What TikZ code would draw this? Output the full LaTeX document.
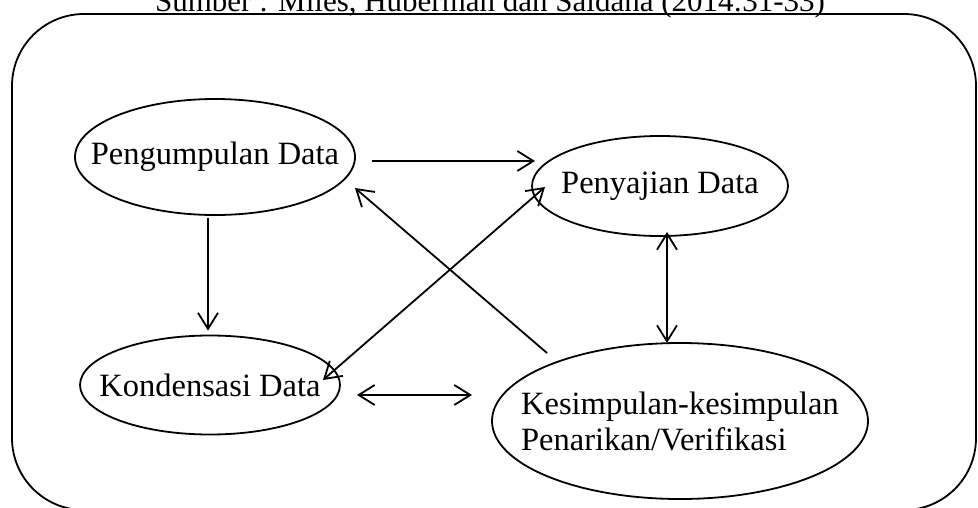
\documentclass[tikz,border=0pt]{standalone}
\usepackage{fontspec}
\setmainfont{Liberation Serif}
\usetikzlibrary{shapes,positioning,arrows.meta}

\tikzset{
    proses/.style={ellipse, draw, line width=1.8pt, inner sep=0pt, inner xsep=-40pt, outer sep=0pt, font=\fontsize{32.5}{36}\selectfont},
    arr/.style={line width=1.8pt, -{Straight Barb[length=16pt,width=20pt]}},
    darr/.style={line width=1.8pt, {Straight Barb[length=16pt,width=20pt]}-{Straight Barb[length=16pt,width=20pt]}}
}

\begin{document}
\begin{tikzpicture}[x=1pt,y=-1pt]
        \clip (0,0) rectangle (978,507);
        \node [anchor=base, font=\fontsize{31}{36}\selectfont] (sumber) at (490,11) {Sumber : Miles, Huberman dan Saldana (2014:31-33)};
        \draw [line width=1.8pt, rounded corners=72pt] (12,14) rectangle (976,510);

        \node [proses, minimum width=280pt, minimum height=116pt] (kumpul) at (215,157) {Pengumpulan Data};
        \node [proses, minimum width=256pt, minimum height=100pt] (saji) at (660,186) {Penyajian Data};
        \node [proses, minimum width=260pt, minimum height=99pt] (konden) at (210,385) {Kondensasi Data};
        \node [proses, minimum width=376pt, minimum height=156pt, align=left] (simpul) at (680,421) {Kesimpulan-kesimpulan\\Penarikan/Verifikasi};

        \draw [arr] ([shift={(17,4)}]kumpul.east) -- ([shift={(3,-25)}]saji.west);
        \draw [arr] ([shift={(-7,3)}]kumpul.south) -- ([shift={(-2,-5)}]konden.north);
        \draw [arr] ([shift={(-133,10)}]simpul.north) -- ([shift={(0,31)}]kumpul.east);
        \draw [darr] ([shift={(-17,-5)}]konden.east) -- ([shift={(13,1)}]saji.west);
        \draw [darr] ([shift={(7,-4)}]saji.south) -- ([shift={(-13,0)}]simpul.north);
        \draw [darr] ([shift={(17,10)}]konden.east) -- ([shift={(-20,-26)}]simpul.west);
    \end{tikzpicture}
\end{document}
